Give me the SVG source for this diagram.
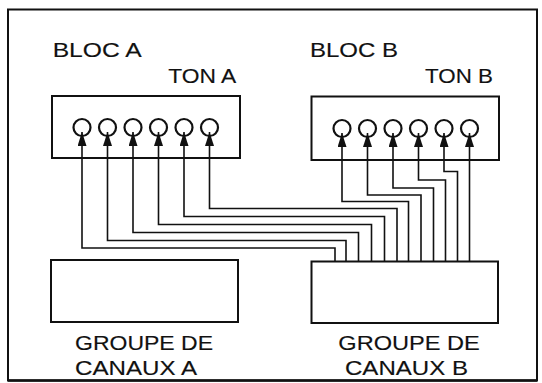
<svg xmlns="http://www.w3.org/2000/svg" width="542" height="383" viewBox="0 0 542 383">
<style>
.box{fill:none;stroke:#111;stroke-width:2}
.port{fill:none;stroke:#111;stroke-width:2.2}
.wire{fill:none;stroke:#111;stroke-width:1.6;stroke-linejoin:miter}
.lbl{font-family:"Liberation Sans",Arial,sans-serif;fill:#111;stroke:#111;stroke-width:0.15}
.top{font-size:21px}
.bot{font-size:21px}
</style>
<defs>
<marker id="arr" viewBox="0 0 14 9" markerWidth="14" markerHeight="9" refX="14" refY="4.5" orient="auto" markerUnits="userSpaceOnUse">
<path d="M0,0 L14,4.5 L0,9 z" fill="#111"/>
</marker>
</defs>
<rect x="0" y="0" width="542" height="383" fill="#fff"/>
<rect x="8" y="9.5" width="529" height="371" fill="none" stroke="#111" stroke-width="2"/>
<line x1="8" y1="380.5" x2="537" y2="380.5" stroke="#111" stroke-width="2.5"/>

<g id="blocA">
<rect class="box" x="52" y="96" width="188" height="62"/>
<circle class="port" cx="82" cy="127.5" r="8.5"/>
<circle class="port" cx="107.5" cy="127.5" r="8.5"/>
<circle class="port" cx="133" cy="127.5" r="8.5"/>
<circle class="port" cx="158.5" cy="127.5" r="8.5"/>
<circle class="port" cx="184" cy="127.5" r="8.5"/>
<circle class="port" cx="209.5" cy="127.5" r="8.5"/>
<text class="lbl top" x="52.7" y="56.7" textLength="89" lengthAdjust="spacingAndGlyphs">BLOC A</text>
<text class="lbl top" x="168.3" y="83.3" textLength="68" lengthAdjust="spacingAndGlyphs">TON A</text>
</g>

<g id="blocB">
<rect class="box" x="311.5" y="96.5" width="187.5" height="63.5"/>
<circle class="port" cx="342" cy="128.5" r="8.5"/>
<circle class="port" cx="367.5" cy="128.5" r="8.5"/>
<circle class="port" cx="393" cy="128.5" r="8.5"/>
<circle class="port" cx="418.5" cy="128.5" r="8.5"/>
<circle class="port" cx="444" cy="128.5" r="8.5"/>
<circle class="port" cx="469.5" cy="128.5" r="8.5"/>
<text class="lbl top" x="310" y="56.7" textLength="88" lengthAdjust="spacingAndGlyphs">BLOC B</text>
<text class="lbl top" x="425" y="83.3" textLength="68" lengthAdjust="spacingAndGlyphs">TON B</text>
</g>

<g id="groupeA">
<rect class="box" x="51" y="260" width="187" height="62"/>
<text class="lbl bot" x="75" y="350" textLength="138" lengthAdjust="spacingAndGlyphs">GROUPE DE</text>
<text class="lbl bot" x="75" y="374.5" textLength="122" lengthAdjust="spacingAndGlyphs">CANAUX A</text>
</g>

<g id="groupeB">
<rect class="box" x="311.5" y="261.5" width="186.5" height="61.5"/>
<text class="lbl bot" x="338.3" y="350" textLength="141.5" lengthAdjust="spacingAndGlyphs">GROUPE DE</text>
<text class="lbl bot" x="345" y="374.5" textLength="123" lengthAdjust="spacingAndGlyphs">CANAUX B</text>
</g>

<g id="connectors">
<path class="wire" marker-end="url(#arr)" d="M335,261.5 V248 H82 V132"/>
<path class="wire" marker-end="url(#arr)" d="M346,261.5 V240.5 H107.5 V132"/>
<path class="wire" marker-end="url(#arr)" d="M358.5,261.5 V232.5 H133 V132"/>
<path class="wire" marker-end="url(#arr)" d="M371.5,261.5 V224.5 H158.5 V132"/>
<path class="wire" marker-end="url(#arr)" d="M384.5,261.5 V216.5 H184 V132"/>
<path class="wire" marker-end="url(#arr)" d="M397,261.5 V208.5 H209.5 V132"/>
<path class="wire" marker-end="url(#arr)" d="M408.5,261.5 V201.5 H342 V133"/>
<path class="wire" marker-end="url(#arr)" d="M421,261.5 V195 H367.5 V133"/>
<path class="wire" marker-end="url(#arr)" d="M433.5,261.5 V188 H393 V133"/>
<path class="wire" marker-end="url(#arr)" d="M445.5,261.5 V180 H418.5 V133"/>
<path class="wire" marker-end="url(#arr)" d="M457.5,261.5 V171.5 H444 V133"/>
<path class="wire" marker-end="url(#arr)" d="M469.5,261.5 V133"/>
</g>
</svg>
